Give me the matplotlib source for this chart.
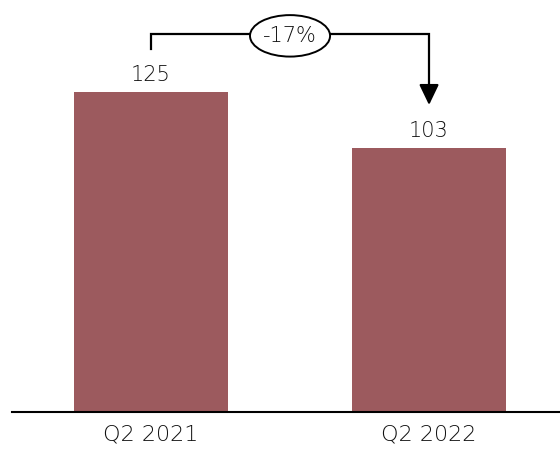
import matplotlib.pyplot as plt
from matplotlib.patches import Ellipse

quarters = ['Q2 2021', 'Q2 2022']
values = [125, 103]
change_label = '-17%'

bar_color = '#9c5a5e'
text_color = '#111111'
plt.rcParams['font.family'] = ['DejaVu Sans']
plt.rcParams['font.weight'] = 'light'

fig = plt.figure(figsize=(5.6, 4.55), dpi=100)
ax = fig.add_axes([12 / 560, 1 - 412 / 455, 1 - 12 / 560, 412 / 455])

x = range(len(values))
ax.bar(x, values, width=0.555, color=bar_color)
ax.set_xlim(-0.5, 1.471)
ax.set_ylim(0, 160.9)

for xi, v in zip(x, values):
    ax.annotate(str(v), (xi, v), xytext=(0, 5), textcoords='offset points',
                ha='center', va='bottom', fontsize=15, color=text_color)

# bracket from the first bar to the second, with the change in an ellipse
top = max(values) + 22.7
ax.plot([0, 0, 1, 1], [max(values) + 16.8, top, top, values[1] + 22],
        color='black', lw=1.6, solid_joinstyle='miter', clip_on=False)
ax.annotate('', xy=(1, values[1] + 16.9), xytext=(1, values[1] + 23),
            arrowprops=dict(arrowstyle='-|>,head_length=1.25,head_width=0.6',
                            color='black', lw=1.6, shrinkA=0, shrinkB=0))
ax.add_patch(Ellipse((0.5, top - 0.8), 0.288, 16.2, facecolor='white',
                     edgecolor='black', lw=1.4, zorder=3))
ax.text(0.5, top - 0.8, change_label, ha='center', va='center', fontsize=15,
        color=text_color, zorder=4)

ax.set_xticks(list(x))
ax.set_xticklabels(quarters, fontsize=16, color=text_color)
ax.tick_params(axis='x', length=0, pad=9)
ax.set_yticks([])
for side in ['top', 'right', 'left']:
    ax.spines[side].set_visible(False)
ax.spines['bottom'].set_linewidth(1.5)

fig.savefig('out.png', dpi=100)
